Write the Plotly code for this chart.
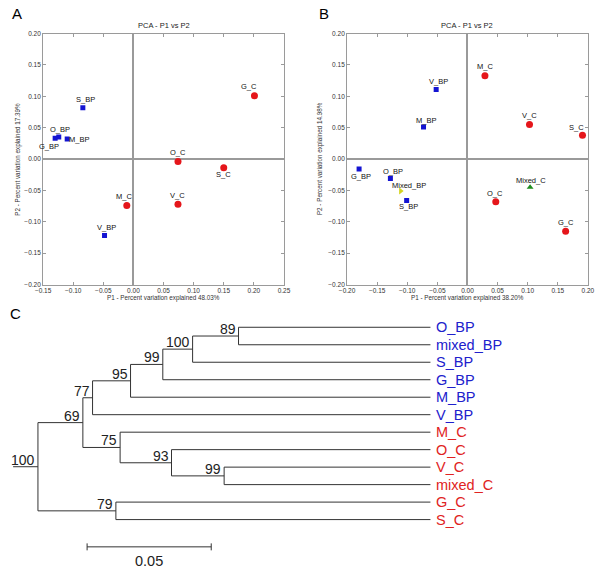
import plotly.graph_objects as go

# ---------------- data: PCA panel A ----------------
a_bp_names = ["S_BP", "O_BP", "G_BP", "M_BP", "V_BP"]
a_bp_x = [-0.084, -0.124, -0.130, -0.110, -0.048]
a_bp_y = [0.082, 0.035, 0.033, 0.032, -0.122]
a_c_names = ["G_C", "O_C", "S_C", "M_C", "V_C"]
a_c_x = [0.201, 0.074, 0.150, -0.011, 0.074]
a_c_y = [0.101, -0.004, -0.014, -0.074, -0.072]

# ---------------- data: PCA panel B ----------------
b_bp_names = ["G_BP", "O_BP", "S_BP", "M_BP", "V_BP"]
b_bp_x = [-0.180, -0.128, -0.101, -0.073, -0.052]
b_bp_y = [-0.016, -0.031, -0.066, 0.051, 0.111]
b_c_names = ["M_C", "O_C", "V_C", "G_C", "S_C"]
b_c_x = [0.029, 0.047, 0.103, 0.163, 0.191]
b_c_y = [0.133, -0.068, 0.055, -0.115, 0.038]
b_mixbp_names = ["Mixed_BP"]
b_mixbp_x = [-0.111]
b_mixbp_y = [-0.051]
b_mixc_names = ["Mixed_C"]
b_mixc_x = [0.104]
b_mixc_y = [-0.045]

a_xtitle = "P1 - Percent variation explained 48.03%"
a_ytitle = "P2 - Percent variation explained 17.39%"
b_xtitle = "P1 - Percent variation explained 38.20%"
b_ytitle = "P2 - Percent variation explained 14.98%"
pca_title = "PCA - P1 vs P2"

# ---------------- data: tree panel C ----------------
leaf_names = ["O_BP", "mixed_BP", "S_BP", "G_BP", "M_BP", "V_BP",
              "M_C", "O_C", "V_C", "mixed_C", "G_C", "S_C"]
leaf_parent = ["n89", "n89", "n100", "n99", "n95", "n77",
               "n75", "n93", "n99b", "n99b", "n79", "n79"]
leaf_group = ["BP"] * 6 + ["C"] * 6
leaf_depth = 0.1581
node_ids = ["root", "n69", "n77", "n95", "n99", "n100", "n89", "n75", "n93", "n99b", "n79"]
node_parent = [None, "root", "n69", "n77", "n95", "n99", "n100", "n69", "n75", "n93", "root"]
node_depth = [0.0, 0.0181, 0.0220, 0.0373, 0.0503, 0.0623, 0.0808, 0.0331, 0.0538, 0.0750, 0.0314]
node_support = [100, 69, 77, 95, 99, 100, 89, 75, 93, 99, 79]
root_stem_start = -0.010
scale_bar_start = 0.0198
scale_bar_length = 0.05

# ---------------- styles ----------------
FONT = "Liberation Sans, Arial, sans-serif"
BLUE = "#1414D2"
RED = "#E5161B"
YELLOW = "#D4D420"
GREEN = "#1E8C1E"
TREE_BLUE = "#2020CC"
TREE_RED = "#E02222"
W, H = 603, 570

# label offsets (xshift, yshift) in px
a_bp_off = [(3, 8), (1, 8), (-6, -8), (12, 0), (2, 8)]
a_c_off = [(-5, 9), (0, 9), (0, -7), (-3, 9), (0, 9)]
b_bp_off = [(2, -7), (3, 7), (2, -6), (2, 7), (2, 8)]
b_c_off = [(0, 9), (-1, 8), (0, 9), (0, 9), (-6, 8)]
b_mixbp_off = [(8, 6)]
b_mixc_off = [(1, 7)]

fig = go.Figure()
annotations = []


def add_points(xa, ya, names, xs, ys, offs, color, symbol, size):
    fig.add_trace(go.Scatter(x=xs, y=ys, mode="markers", xaxis=xa, yaxis=ya,
                             marker=dict(color=color, symbol=symbol, size=size,
                                         line=dict(width=0)),
                             showlegend=False, hoverinfo="text", text=names))
    for n, x, y, (dx, dy) in zip(names, xs, ys, offs):
        annotations.append(dict(x=x, y=y, xref=xa, yref=ya, text=n, showarrow=False,
                                xanchor="center", yanchor="middle",
                                xshift=dx, yshift=dy,
                                font=dict(family=FONT, size=7.5, color="#111")))


add_points("x", "y", a_bp_names, a_bp_x, a_bp_y, a_bp_off, BLUE, "square", 5)
add_points("x", "y", a_c_names, a_c_x, a_c_y, a_c_off, RED, "circle", 7)
add_points("x2", "y2", b_bp_names, b_bp_x, b_bp_y, b_bp_off, BLUE, "square", 5)
add_points("x2", "y2", b_c_names, b_c_x, b_c_y, b_c_off, RED, "circle", 7)
add_points("x2", "y2", b_mixbp_names, b_mixbp_x, b_mixbp_y, b_mixbp_off, YELLOW, "triangle-right", 6)
add_points("x2", "y2", b_mixc_names, b_mixc_x, b_mixc_y, b_mixc_off, GREEN, "triangle-up", 6)

# ---------------- tree geometry ----------------
children = {n: [] for n in node_ids}
for i, p in enumerate(leaf_parent):
    children[p].append(("leaf", i))
for n, p in zip(node_ids, node_parent):
    if p is not None:
        children[p].append(("node", n))
ndepth = dict(zip(node_ids, node_depth))
nsupport = dict(zip(node_ids, node_support))
ypos = {}


def node_y(n):
    if n in ypos:
        return ypos[n]
    vals = []
    for kind, c in children[n]:
        vals.append(float(c) if kind == "leaf" else node_y(c))
    ypos[n] = (min(vals) + max(vals)) / 2
    return ypos[n]


for n in node_ids:
    node_y(n)

tx, ty = [], []
for n in node_ids:
    cys = []
    for kind, c in children[n]:
        if kind == "leaf":
            cy, cx = float(c), leaf_depth
        else:
            cy, cx = ypos[c], ndepth[c]
        cys.append(cy)
        tx += [ndepth[n], cx, None]
        ty += [cy, cy, None]
    tx += [ndepth[n], ndepth[n], None]
    ty += [min(cys), max(cys), None]
# root stem
tx += [root_stem_start, ndepth["root"], None]
ty += [ypos["root"], ypos["root"], None]

fig.add_trace(go.Scatter(x=tx, y=ty, mode="lines", xaxis="x3", yaxis="y3",
                         line=dict(color="#333333", width=1), showlegend=False,
                         hoverinfo="skip"))

# scale bar
sb_y = 12.56
sb_x0, sb_x1 = scale_bar_start, scale_bar_start + scale_bar_length
fig.add_trace(go.Scatter(x=[sb_x0, sb_x1, None, sb_x0, sb_x0, None, sb_x1, sb_x1],
                         y=[sb_y, sb_y, None, sb_y - 0.2, sb_y + 0.2, None, sb_y - 0.2, sb_y + 0.2],
                         mode="lines", xaxis="x3", yaxis="y3",
                         line=dict(color="#333333", width=1), showlegend=False,
                         hoverinfo="skip"))
annotations.append(dict(x=(sb_x0 + sb_x1) / 2, y=sb_y, xref="x3", yref="y3",
                        text=f"{scale_bar_length:.2f}", showarrow=False,
                        xanchor="center", yanchor="top", yshift=-4,
                        font=dict(family=FONT, size=14.5, color="#222")))

for i, name in enumerate(leaf_names):
    annotations.append(dict(x=leaf_depth, y=i, xref="x3", yref="y3", text=name,
                            showarrow=False, xanchor="left", yanchor="middle", xshift=4,
                            font=dict(family=FONT, size=14.5,
                                      color=TREE_BLUE if leaf_group[i] == "BP" else TREE_RED)))
for n in node_ids:
    annotations.append(dict(x=ndepth[n], y=ypos[n], xref="x3", yref="y3",
                            text=str(nsupport[n]), showarrow=False,
                            xanchor="right", yanchor="bottom", xshift=-1, yshift=-3,
                            font=dict(family=FONT, size=14, color="#222")))

# ---------------- panel texts ----------------
def px(x):
    return x / W


def py(y):
    return 1 - y / H


panel_a = (36, 283)
panel_b = (347.7, 594.7)
top, bot = 30, 284

for (x0, x1), title, xt, yt, ytx in [(panel_a, pca_title, a_xtitle, a_ytitle, 10),
                                     (panel_b, pca_title, b_xtitle, b_ytitle, 320)]:
    cx = (x0 + x1) / 2
    annotations.append(dict(x=px(cx), y=py(22), xref="paper", yref="paper", text=title,
                            xanchor="center", yanchor="middle",
                            showarrow=False, font=dict(family=FONT, size=7.5, color="#222")))
    annotations.append(dict(x=px(cx), y=py(297.5), xref="paper", yref="paper", text=xt,
                            xanchor="center", yanchor="middle",
                            showarrow=False, font=dict(family=FONT, size=6.3, color="#333")))
    annotations.append(dict(x=px(ytx), y=py((top + bot) / 2), xref="paper", yref="paper",
                            text=yt, textangle=-90, showarrow=False,
                            xanchor="center", yanchor="middle",
                            font=dict(family=FONT, size=6.3, color="#333")))

for letter, lx, ly in [("A", 9, 10), ("B", 324, 10), ("C", 8, 313)]:
    annotations.append(dict(x=px(lx), y=py(ly), xref="paper", yref="paper", text=letter,
                            xanchor="center", yanchor="middle",
                            showarrow=False, font=dict(family=FONT, size=15, color="#000")))

axis_common = dict(showgrid=False, zeroline=True, zerolinecolor="#9a9a9a", zerolinewidth=1.5,
                   showline=True, linecolor="#9a9a9a", linewidth=1, mirror="ticks",
                   ticks="inside", ticklen=3, tickcolor="#9a9a9a",
                   tickfont=dict(family=FONT, size=6.5, color="#333"),
                   tickformat=".2f", dtick=0.05, fixedrange=True)

fig.update_layout(
    width=W, height=H, margin=dict(l=0, r=0, t=0, b=0),
    paper_bgcolor="white", plot_bgcolor="white", showlegend=False,
    xaxis=dict(domain=[px(panel_a[0]), px(panel_a[1])], range=[-0.15, 0.25], anchor="y", **axis_common),
    yaxis=dict(domain=[py(bot), py(top)], range=[-0.20, 0.20], anchor="x", **axis_common),
    xaxis2=dict(domain=[px(panel_b[0]), px(panel_b[1])], range=[-0.20, 0.20], anchor="y2", **axis_common),
    yaxis2=dict(domain=[py(bot), py(top)], range=[-0.20, 0.20], anchor="x2", **axis_common),
    xaxis3=dict(domain=[0, 1], range=[-0.01206, 0.22479], visible=False, anchor="y3", fixedrange=True),
    yaxis3=dict(domain=[0, py(300)], range=[13.712, -1.542], visible=False, anchor="x3", fixedrange=True),
    annotations=annotations,
)

fig.write_html("out.html", config={"displayModeBar": False},
               post_script="document.body.style.margin='0';document.body.style.overflow='hidden';")
